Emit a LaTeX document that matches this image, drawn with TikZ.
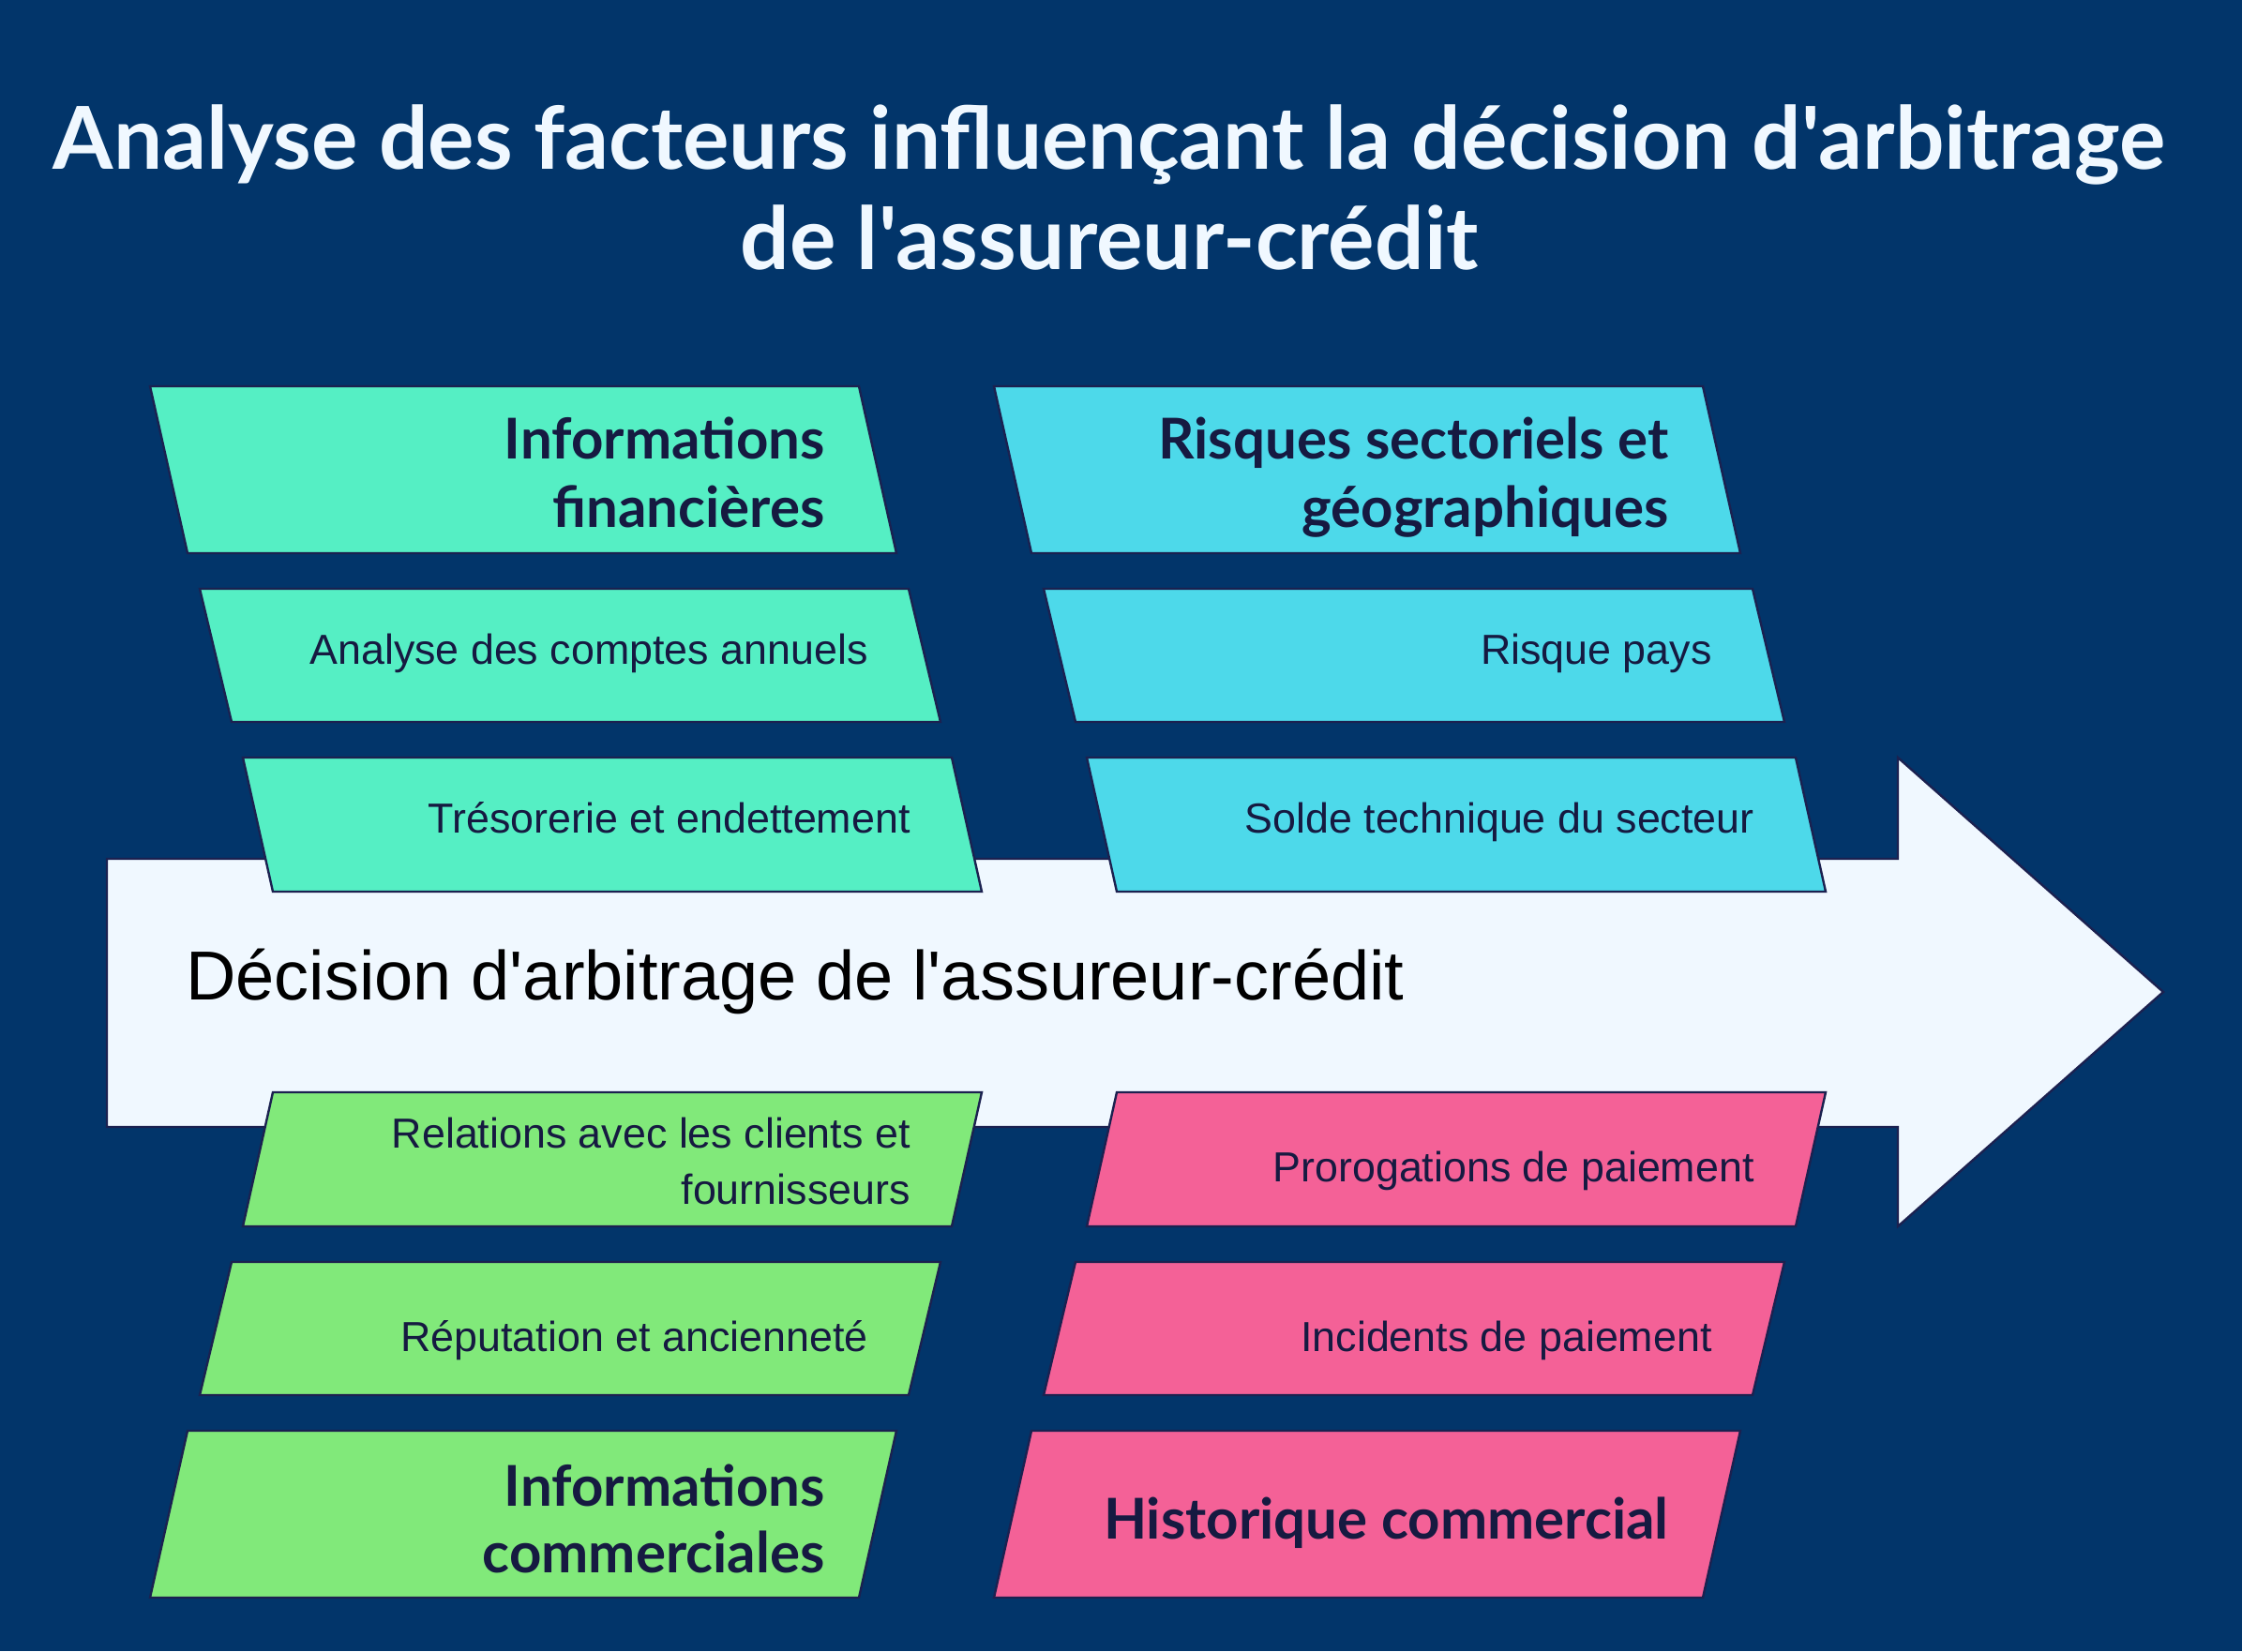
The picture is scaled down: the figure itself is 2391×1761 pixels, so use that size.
\documentclass[tikz,border=0pt]{standalone}
\usepackage{fontspec}
\setmainfont{Liberation Sans}
\newfontfamily\bodyfont{Liberation Sans}
\newfontfamily\headfont{Lato}
\definecolor{bgc}{HTML}{02356A}
\definecolor{arrowc}{HTML}{F0F8FF}
\definecolor{linec}{HTML}{1B2150}
\definecolor{txtc}{HTML}{161A41}
\definecolor{teal}{HTML}{55EFC4}
\definecolor{cyanc}{HTML}{4DD9EA}
\definecolor{greenc}{HTML}{81E97A}
\definecolor{pinkc}{HTML}{F46197}
\tikzset{
  boxline/.style={draw=linec, line width=1.2pt, line join=miter},
  headtxt/.style={font=\headfont\bfseries\fontsize{30}{36}\selectfont, text=txtc, inner sep=0pt, anchor=base east, xshift=2pt},
  bodytxt/.style={font=\bodyfont\fontsize{22.4}{30}\selectfont, text=txtc, inner sep=0pt, anchor=base east},
  titletxt/.style={font=\headfont\bfseries\fontsize{46.3}{53}\selectfont, text=arrowc, inner sep=0pt, anchor=base},
}
% #1 xtl, #2 xbl, #3 ytop, #4 ybottom, #5 fill
\newcommand\pbox[5]{%
  \draw[boxline, fill=#5] (#1,#3) -- (#1+756,#3) -- (#2+756,#4) -- (#2,#4) -- cycle;
  \pgfmathsetmacro\rx{(#1+#2)/2+696}%
}
% #1 name, #2 style, #3 baseline y, #4 text
\newcommand\ptext[4]{\node[#2] (#1) at (\rx,#3) {#4};}
\begin{document}
\begin{tikzpicture}[x=0.5pt,y=-0.5pt]
\useasboundingbox (0,0) rectangle (2391,1761);
\fill[bgc] (0,0) rectangle (2391,1761);
% title
\node[titletxt] (t1) at (1183,180) {Analyse des facteurs influençant la décision d'arbitrage};
\node[titletxt] (t2) at (1183,287) {de l'assureur-crédit};
% main arrow
\draw[boxline, fill=arrowc] (114,916) coordinate (a0) -- (2024,916) -- (2024,808)
  -- (2307,1058) coordinate (tip) -- (2024,1308) -- (2024,1202) -- (114,1202) -- cycle;
\node[anchor=base west, inner sep=0pt, text=black, font=\bodyfont\fontsize{37}{44}\selectfont] (dec) at (198,1066) {Décision d'arbitrage de l'assureur-crédit};
% top left
\pbox{160}{200}{412}{590}{teal}
\ptext{b1a}{headtxt}{489}{Informations}
\ptext{b1b}{headtxt}{562}{financières}
\pbox{213}{247}{628}{770}{teal}
\ptext{b2}{bodytxt}{708}{Analyse des comptes annuels}
\pbox{259}{291}{808}{951}{teal}
\ptext{b3}{bodytxt}{888}{Trésorerie et endettement}
% top right
\pbox{1060}{1100}{412}{590}{cyanc}
\ptext{b4a}{headtxt}{489}{Risques sectoriels et}
\ptext{b4b}{headtxt}{562}{géographiques}
\pbox{1113}{1147}{628}{770}{cyanc}
\ptext{b5}{bodytxt}{708}{Risque pays}
\pbox{1159}{1191}{808}{951}{cyanc}
\ptext{b6}{bodytxt}{888}{Solde technique du secteur}
% bottom left
\pbox{291}{259}{1165}{1308}{greenc}
\ptext{b7a}{bodytxt}{1224}{Relations avec les clients et}
\ptext{b7b}{bodytxt}{1284}{fournisseurs}
\pbox{247}{213}{1346}{1488}{greenc}
\ptext{b8}{bodytxt}{1441}{Réputation et ancienneté}
\pbox{200}{160}{1526}{1704}{greenc}
\ptext{b9a}{headtxt}{1606}{Informations}
\ptext{b9b}{headtxt}{1677}{commerciales}
% bottom right
\pbox{1191}{1159}{1165}{1308}{pinkc}
\ptext{b10}{bodytxt}{1260}{Prorogations de paiement}
\pbox{1147}{1113}{1346}{1488}{pinkc}
\ptext{b11}{bodytxt}{1441}{Incidents de paiement}
\pbox{1100}{1060}{1526}{1704}{pinkc}
\ptext{b12}{headtxt}{1641}{Historique commercial}
\end{tikzpicture}
\end{document}
